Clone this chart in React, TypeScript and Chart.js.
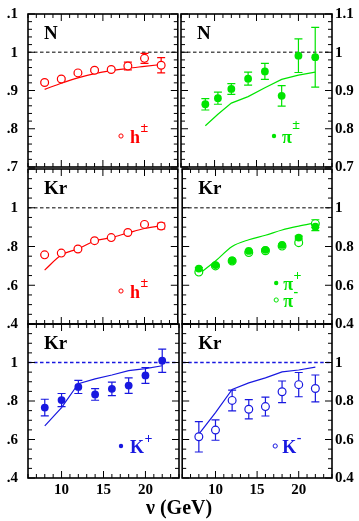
import React, { useEffect, useRef } from 'react';
import { Chart, registerables } from 'chart.js';

Chart.register(...registerables);

const FONT = '"Liberation Serif", "Times New Roman", serif';
const RED = '#ff0000';
const GREEN = '#00e400';
const BLUE = '#1818e0';
const DASH_GRAY = '#555555';

// ν bins (GeV)
const NU = [8, 10, 12, 14, 16, 18, 20, 22];
const NU_N_PI = [8.9, 10.4, 12, 14, 16, 18, 20, 22];

// axis tick labels
const X_TICK_VALUES = [10, 15, 20];
const X_TICK_LABELS = ['10', '15', '20'];
const Y_TOP_VALUES = [0.7, 0.8, 0.9, 1.0, 1.1];
const Y_TOP_LEFT_LABELS = ['.7', '.8', '.9', '1', '.1'];
const Y_TOP_RIGHT_LABELS = ['0.7', '0.8', '0.9', '1', '1.1'];
const Y_LOW_VALUES = [0.4, 0.6, 0.8, 1.0];
const Y_LOW_LEFT_LABELS = ['.4', '.6', '.8', '1'];
const Y_LOW_RIGHT_LABELS = ['0.4', '0.6', '0.8', '1'];

// N target, h±
const N_H_RATIO = [0.921, 0.930, 0.946, 0.953, 0.955, 0.964, 0.984, 0.966];
const N_H_ERR = [0.003, 0.003, 0.003, 0.003, 0.003, 0.010, 0.013, 0.020];
const N_H_THEORY = [0.903, 0.919, 0.933, 0.944, 0.952, 0.958, 0.963, 0.968];

// N target, π±
const N_PI_RATIO = [0.864, 0.880, 0.904, 0.931, 0.950, 0.886, 0.991, 0.987];
const N_PI_ERR = [0.015, 0.016, 0.014, 0.017, 0.021, 0.027, 0.044, 0.078];
const N_PI_THEORY = [0.808, 0.838, 0.867, 0.884, 0.907, 0.929, 0.940, 0.948];

// Kr target, h±
const KR_H_RATIO = [0.757, 0.766, 0.787, 0.830, 0.846, 0.872, 0.914, 0.906];
const KR_H_ERR = [0.004, 0.004, 0.004, 0.004, 0.004, 0.005, 0.006, 0.015];
const KR_H_THEORY = [0.678, 0.756, 0.788, 0.828, 0.846, 0.870, 0.893, 0.907];

// Kr target, π+ and π-
const KR_PIP_RATIO = [0.686, 0.704, 0.728, 0.777, 0.783, 0.808, 0.846, 0.902];
const KR_PIM_RATIO = [0.668, 0.700, 0.725, 0.769, 0.778, 0.802, 0.820, 0.918];
const KR_PI_ERR = [0.005, 0.005, 0.005, 0.005, 0.005, 0.006, 0.008, 0.020];
const KR_PI_THEORY = [0.658, 0.725, 0.800, 0.835, 0.858, 0.885, 0.905, 0.922];

// Kr target, K+
const KR_KP_RATIO = [0.766, 0.805, 0.873, 0.834, 0.863, 0.880, 0.933, 1.009];
const KR_KP_ERR = [0.043, 0.034, 0.034, 0.030, 0.035, 0.040, 0.041, 0.060];
const KR_KP_THEORY = [0.671, 0.766, 0.890, 0.915, 0.935, 0.958, 0.968, 0.983];

// Kr target, K-
const KR_KM_RATIO = [0.614, 0.649, 0.803, 0.757, 0.771, 0.848, 0.885, 0.865];
const KR_KM_ERR = [0.079, 0.053, 0.054, 0.050, 0.049, 0.056, 0.063, 0.070];
const KR_KM_THEORY = [0.628, 0.740, 0.860, 0.894, 0.920, 0.951, 0.961, 0.976];

type LegendItem = {
  dx: number; dy: number; filled: boolean; main: string; sup: string;
  tx: number; ty: number; raise: number;
};

type PanelCfg = {
  key: string;
  left: number; top: number; width: number; height: number;
  pad: { top: number; bottom: number; left: number; right: number };
  side: 'left' | 'right';
  yMin: number; yMax: number; yStep: number; yMinor: number;
  yValues: number[]; yLabels: string[];
  showX: boolean;
  color: string;
  dashColor: string;
  title: string;
  datasets: any[];
  errorBars: { x: number[]; y: number[]; e: number[] }[];
  legend: LegendItem[];
};

const pts = (xs: number[], ys: number[]) => xs.map((x, i) => ({ x, y: ys[i] }));

const theory = (xs: number[], ys: number[], color: string, smooth: boolean) => ({
  data: pts(xs, ys),
  showLine: true,
  borderColor: color,
  borderWidth: 1.2,
  pointRadius: 0,
  cubicInterpolationMode: smooth ? 'monotone' : 'default',
  tension: 0,
  order: 3,
});

const markers = (xs: number[], ys: number[], color: string, filled: boolean, order: number) => ({
  data: pts(xs, ys),
  showLine: false,
  pointStyle: 'circle',
  pointRadius: filled ? 3.9 : 3.9,
  borderWidth: filled ? 0 : 1.2,
  borderColor: color,
  backgroundColor: filled ? color : '#ffffff',
  order,
});

function makeDecor(cfg: PanelCfg) {
  return {
    id: 'decor',
    beforeDatasetsDraw(chart: any) {
      const { ctx, chartArea: a } = chart;
      const xs = chart.scales.x;
      const ys = chart.scales.y;
      ctx.save();
      const py = ys.getPixelForValue(1);
      ctx.strokeStyle = cfg.dashColor;
      ctx.lineWidth = 1.4;
      ctx.setLineDash([3.5, 2.5]);
      ctx.beginPath();
      ctx.moveTo(a.left, py);
      ctx.lineTo(a.right, py);
      ctx.stroke();
      ctx.setLineDash([]);
      ctx.strokeStyle = cfg.color;
      ctx.lineWidth = 1.2;
      for (const eb of cfg.errorBars) {
        eb.x.forEach((xv, i) => {
          const px = xs.getPixelForValue(xv);
          const y1 = ys.getPixelForValue(eb.y[i] - eb.e[i]);
          const y2 = ys.getPixelForValue(eb.y[i] + eb.e[i]);
          ctx.beginPath();
          ctx.moveTo(px, y1); ctx.lineTo(px, y2);
          ctx.moveTo(px - 4, y1); ctx.lineTo(px + 4, y1);
          ctx.moveTo(px - 4, y2); ctx.lineTo(px + 4, y2);
          ctx.stroke();
        });
      }
      ctx.restore();
    },
    afterDraw(chart: any) {
      const { ctx, chartArea: a } = chart;
      const xs = chart.scales.x;
      const ys = chart.scales.y;
      ctx.save();
      // inward ticks
      ctx.strokeStyle = '#000';
      ctx.lineWidth = 1;
      for (let v = Math.ceil(xs.min); v <= xs.max; v += 1) {
        const px = xs.getPixelForValue(v);
        const len = v % 5 === 0 ? 7 : 4;
        ctx.beginPath();
        ctx.moveTo(px, a.bottom); ctx.lineTo(px, a.bottom - len);
        ctx.moveTo(px, a.top); ctx.lineTo(px, a.top + len);
        ctx.stroke();
      }
      const k0 = Math.ceil(cfg.yMin / cfg.yMinor - 1e-6);
      const k1 = Math.floor(cfg.yMax / cfg.yMinor + 1e-6);
      for (let k = k0; k <= k1; k++) {
        const v = k * cfg.yMinor;
        const r = v / cfg.yStep;
        const major = Math.abs(r - Math.round(r)) < 1e-6;
        const len = major ? 7 : 4;
        const py = ys.getPixelForValue(v);
        ctx.beginPath();
        ctx.moveTo(a.left, py); ctx.lineTo(a.left + len, py);
        ctx.moveTo(a.right, py); ctx.lineTo(a.right - len, py);
        ctx.stroke();
      }
      // frame
      ctx.lineWidth = 1.6;
      ctx.strokeRect(a.left, a.top, a.right - a.left, a.bottom - a.top);
      // tick labels
      ctx.fillStyle = '#000';
      ctx.font = `bold 15px ${FONT}`;
      ctx.textBaseline = 'middle';
      cfg.yValues.forEach((v, i) => {
        const py = ys.getPixelForValue(v);
        if (cfg.side === 'left') {
          ctx.textAlign = 'right';
          ctx.fillText(cfg.yLabels[i], a.left - 10, py + 0.5);
        } else {
          ctx.textAlign = 'left';
          ctx.fillText(cfg.yLabels[i], a.right + 3, py + 0.5);
        }
      });
      if (cfg.showX) {
        ctx.textAlign = 'center';
        X_TICK_VALUES.forEach((v, i) => {
          ctx.fillText(X_TICK_LABELS[i], xs.getPixelForValue(v), a.bottom + 12);
        });
      }
      // title
      ctx.textBaseline = 'alphabetic';
      ctx.textAlign = 'left';
      ctx.font = `bold 19px ${FONT}`;
      ctx.fillText(cfg.title, a.left + 16, a.top + 25);
      // legend
      for (const it of cfg.legend) {
        const mx = a.left + it.dx;
        const my = a.top + it.dy;
        ctx.beginPath();
        ctx.arc(mx, my, it.filled ? 2.2 : 2.1, 0, Math.PI * 2);
        if (it.filled) {
          ctx.fillStyle = cfg.color;
          ctx.fill();
        } else {
          ctx.strokeStyle = cfg.color;
          ctx.lineWidth = 1;
          ctx.stroke();
        }
        ctx.fillStyle = cfg.color;
        ctx.font = `bold 18px ${FONT}`;
        const tx = a.left + it.tx;
        const ty = a.top + it.ty;
        ctx.fillText(it.main, tx, ty);
        const w = ctx.measureText(it.main).width;
        ctx.font = `bold 14px ${FONT}`;
        ctx.fillText(it.sup, tx + w + 0.5, ty - it.raise);
      }
      ctx.restore();
    },
  };
}

const LEFT_COL = { left: 0, width: 183, pad: { left: 28, right: 3 }, side: 'left' as const };
const RIGHT_COL = { left: 177, width: 182, pad: { left: 3, right: 27 }, side: 'right' as const };
const ROW_TOP = { top: 4, height: 171, pad: { top: 10, bottom: 8 }, showX: false };
const ROW_MID = { top: 161, height: 171, pad: { top: 8, bottom: 8 }, showX: false };
const ROW_BOT = { top: 316, height: 184, pad: { top: 8, bottom: 22 }, showX: true };

function panel(key: string, col: typeof LEFT_COL | typeof RIGHT_COL, row: typeof ROW_TOP, rest: Partial<PanelCfg>): PanelCfg {
  return {
    key,
    left: col.left,
    width: col.width,
    top: row.top,
    height: row.height,
    pad: { top: row.pad.top, bottom: row.pad.bottom, left: col.pad.left, right: col.pad.right },
    side: col.side,
    showX: row.showX,
    ...(rest as any),
  } as PanelCfg;
}

const TOP_AXIS = { yMin: 0.7, yMax: 1.1, yStep: 0.1, yMinor: 0.02, yValues: Y_TOP_VALUES };
const LOW_AXIS = { yMin: 0.4, yMax: 1.2, yStep: 0.2, yMinor: 0.05, yValues: Y_LOW_VALUES };

const PANELS: PanelCfg[] = [
  panel('n-h', LEFT_COL, ROW_TOP, {
    ...TOP_AXIS, yLabels: Y_TOP_LEFT_LABELS, color: RED, dashColor: DASH_GRAY, title: 'N',
    datasets: [theory(NU, N_H_THEORY, RED, true), markers(NU, N_H_RATIO, RED, false, 1)],
    errorBars: [{ x: NU, y: N_H_RATIO, e: N_H_ERR }],
    legend: [{ dx: 93, dy: 122, filled: false, main: 'h', sup: '±', tx: 102, ty: 129, raise: 11 }],
  }),
  panel('n-pi', RIGHT_COL, ROW_TOP, {
    ...TOP_AXIS, yLabels: Y_TOP_RIGHT_LABELS, color: GREEN, dashColor: DASH_GRAY, title: 'N',
    datasets: [theory(NU_N_PI, N_PI_THEORY, GREEN, false), markers(NU_N_PI, N_PI_RATIO, GREEN, true, 1)],
    errorBars: [{ x: NU_N_PI, y: N_PI_RATIO, e: N_PI_ERR }],
    legend: [{ dx: 93, dy: 122, filled: true, main: 'π', sup: '±', tx: 101, ty: 129, raise: 14 }],
  }),
  panel('kr-h', LEFT_COL, ROW_MID, {
    ...LOW_AXIS, yLabels: Y_LOW_LEFT_LABELS, color: RED, dashColor: DASH_GRAY, title: 'Kr',
    datasets: [theory(NU, KR_H_THEORY, RED, true), markers(NU, KR_H_RATIO, RED, false, 1)],
    errorBars: [{ x: NU, y: KR_H_RATIO, e: KR_H_ERR }],
    legend: [{ dx: 93, dy: 122, filled: false, main: 'h', sup: '±', tx: 102, ty: 129, raise: 11 }],
  }),
  panel('kr-pi', RIGHT_COL, ROW_MID, {
    ...LOW_AXIS, yLabels: Y_LOW_RIGHT_LABELS, color: GREEN, dashColor: DASH_GRAY, title: 'Kr',
    datasets: [
      theory(NU, KR_PI_THEORY, GREEN, true),
      markers(NU, KR_PIM_RATIO, GREEN, false, 2),
      markers(NU, KR_PIP_RATIO, GREEN, true, 1),
    ],
    errorBars: [{ x: NU, y: KR_PIM_RATIO, e: KR_PI_ERR }, { x: NU, y: KR_PIP_RATIO, e: KR_PI_ERR }],
    legend: [
      { dx: 94, dy: 114, filled: true, main: 'π', sup: '+', tx: 101, ty: 121, raise: 10 },
      { dx: 94, dy: 131, filled: false, main: 'π', sup: '-', tx: 101, ty: 138, raise: 11 },
    ],
  }),
  panel('kr-kp', LEFT_COL, ROW_BOT, {
    ...LOW_AXIS, yLabels: Y_LOW_LEFT_LABELS, color: BLUE, dashColor: BLUE, title: 'Kr',
    datasets: [theory(NU, KR_KP_THEORY, BLUE, false), markers(NU, KR_KP_RATIO, BLUE, true, 1)],
    errorBars: [{ x: NU, y: KR_KP_RATIO, e: KR_KP_ERR }],
    legend: [{ dx: 93, dy: 122, filled: true, main: 'K', sup: '+', tx: 102, ty: 129, raise: 10 }],
  }),
  panel('kr-km', RIGHT_COL, ROW_BOT, {
    ...LOW_AXIS, yLabels: Y_LOW_RIGHT_LABELS, color: BLUE, dashColor: BLUE, title: 'Kr',
    datasets: [theory(NU, KR_KM_THEORY, BLUE, false), markers(NU, KR_KM_RATIO, BLUE, false, 1)],
    errorBars: [{ x: NU, y: KR_KM_RATIO, e: KR_KM_ERR }],
    legend: [{ dx: 93, dy: 122, filled: false, main: 'K', sup: '-', tx: 100, ty: 129, raise: 11 }],
  }),
];

function Panel({ cfg }: { cfg: PanelCfg }) {
  const ref = useRef<HTMLCanvasElement>(null);
  useEffect(() => {
    const chart = new Chart(ref.current as HTMLCanvasElement, {
      type: 'scatter',
      data: { datasets: cfg.datasets },
      plugins: [makeDecor(cfg) as any],
      options: {
        animation: false,
        responsive: false,
        devicePixelRatio: 1,
        events: [],
        layout: { padding: cfg.pad },
        plugins: { legend: { display: false }, tooltip: { enabled: false } },
        scales: {
          x: { type: 'linear', min: 6, max: 24, display: false },
          y: { type: 'linear', position: cfg.side, min: cfg.yMin, max: cfg.yMax, display: false },
        },
      } as any,
    });
    return () => chart.destroy();
  }, [cfg]);
  return (
    <canvas
      ref={ref}
      width={cfg.width}
      height={cfg.height}
      style={{ position: 'absolute', left: cfg.left, top: cfg.top, width: cfg.width, height: cfg.height }}
    />
  );
}

export default function App() {
  return (
    <div style={{ position: 'absolute', left: 0, top: 0, width: 359, height: 521, background: '#fff', overflow: 'hidden' }}>
      {PANELS.map((p) => <Panel key={p.key} cfg={p} />)}
      <div
        style={{
          position: 'absolute', left: 146, top: 496, whiteSpace: 'nowrap',
          font: `bold 20px ${FONT}`, lineHeight: '22px', color: '#000',
        }}
      >
        ν (GeV)
      </div>
    </div>
  );
}
